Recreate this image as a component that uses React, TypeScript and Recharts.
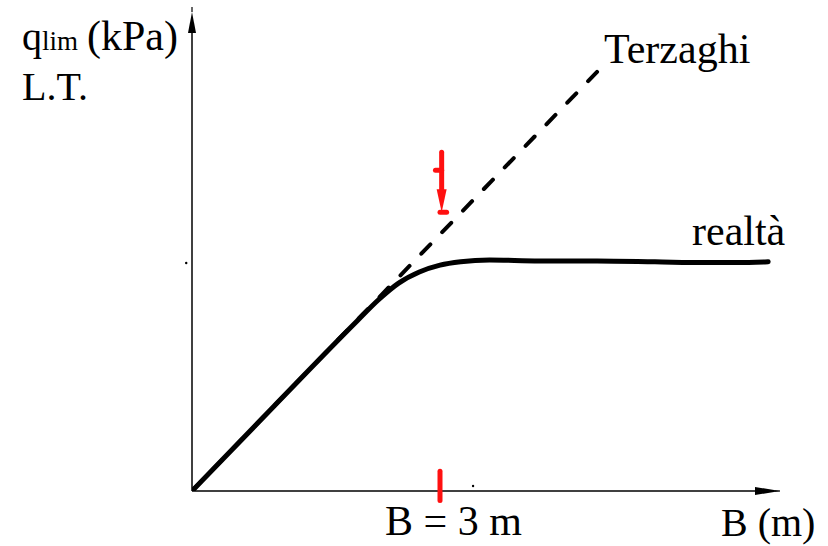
import { LineChart, Line, XAxis, YAxis, ReferenceLine, ReferenceDot } from "recharts";

// B in metres, q_lim in arbitrary kPa-like units
const terzaghiB = [0, 4.9];
const terzaghiQ = [0, 490];
const realtaB = [0, 1.0, 2.0, 2.25, 2.5, 2.75, 3.0, 3.25, 3.6, 4.2, 4.9, 5.6, 6.2, 6.6, 6.97];
const realtaQ = [0, 100, 199, 223, 243, 256, 264, 268, 270, 269, 269, 268, 267, 267, 268];

const X_MAX = 7.5;
const Y_MAX = 560;
const X_AXIS_END = 7.113;
const B_MARK = 3;

const terzaghi = terzaghiB.map((B, i) => ({ B, q: terzaghiQ[i] }));
const realta = realtaB.map((B, i) => ({ B, q: realtaQ[i] }));

const FONT = "'Liberation Serif', 'Times New Roman', serif";
const RED = "#ff1010";

// line with a narrow filled head at the end, optional small tick at the tip
const arrowShape =
  (opts: { color: string; width: number; head: number; half: number; tip?: number; cap?: "round" | "butt" }) =>
  (props: any) => {
    const { x1, y1, x2, y2 } = props;
    const dx = x2 - x1;
    const dy = y2 - y1;
    const len = Math.hypot(dx, dy) || 1;
    const ux = dx / len;
    const uy = dy / len;
    const px = -uy;
    const py = ux;
    const bx = x2 - ux * opts.head;
    const by = y2 - uy * opts.head;
    const pts = `${x2},${y2} ${bx + px * opts.half},${by + py * opts.half} ${bx - px * opts.half},${by - py * opts.half}`;
    return (
      <g>
        <line x1={x1} y1={y1} x2={bx + ux * 2} y2={by + uy * 2} stroke={opts.color} strokeWidth={opts.width} strokeLinecap={opts.cap ?? "butt"} />
        <polygon points={pts} fill={opts.color} />
        {opts.tip ? (
          <line x1={x2} y1={y2} x2={x2 + py * opts.tip} y2={y2 - px * opts.tip} stroke={opts.color} strokeWidth={1.2} />
        ) : null}
      </g>
    );
  };

export default function App() {
  return (
    <div style={{ position: "absolute", left: 0, top: 0, width: 828, height: 546, background: "#fff" }}>
      <LineChart width={828} height={546} margin={{ top: 12, right: 16, bottom: 55, left: 192 }}>
        <XAxis type="number" dataKey="B" domain={[0, X_MAX]} hide allowDataOverflow />
        <YAxis type="number" dataKey="q" domain={[0, Y_MAX]} hide allowDataOverflow />

        <ReferenceLine
          segment={[{ x: 0, y: 0 }, { x: 0, y: Y_MAX }]}
          ifOverflow="visible"
          shape={arrowShape({ color: "#000", width: 1.5, head: 21, half: 4, tip: 5 })}
        />
        <ReferenceLine
          segment={[{ x: 0, y: 0 }, { x: X_AXIS_END, y: 0 }]}
          ifOverflow="visible"
          shape={arrowShape({ color: "#000", width: 1.5, head: 25, half: 4, tip: -5 })}
        />

        <Line
          data={terzaghi}
          dataKey="q"
          type="linear"
          stroke="#000"
          strokeWidth={4}
          strokeDasharray="13 17"
          strokeLinecap="round"
          dot={false}
          activeDot={false}
          isAnimationActive={false}
        />
        <Line
          data={realta}
          dataKey="q"
          type="monotone"
          stroke="#000"
          strokeWidth={5}
          strokeLinecap="round"
          dot={false}
          activeDot={false}
          isAnimationActive={false}
        />

        <ReferenceLine
          segment={[{ x: B_MARK, y: 23 }, { x: B_MARK, y: -11 }]}
          ifOverflow="visible"
          stroke={RED}
          strokeWidth={5}
          strokeLinecap="round"
        />
        <ReferenceLine
          segment={[{ x: 3.02, y: 396 }, { x: 3.02, y: 326 }]}
          ifOverflow="visible"
          shape={arrowShape({ color: RED, width: 5, head: 23, half: 5, cap: "round" })}
        />
        <ReferenceLine
          segment={[{ x: 2.945, y: 375 }, { x: 3.02, y: 375 }]}
          ifOverflow="visible"
          stroke={RED}
          strokeWidth={5}
          strokeLinecap="round"
        />
        <ReferenceLine
          segment={[{ x: 3.0, y: 326 }, { x: 3.08, y: 326 }]}
          ifOverflow="visible"
          stroke={RED}
          strokeWidth={5}
          strokeLinecap="round"
        />

        <ReferenceDot x={-0.07} y={266.5} r={1.2} fill="#000" stroke="none" ifOverflow="visible" />
        <ReferenceDot x={3.4} y={5.8} r={1.2} fill="#000" stroke="none" ifOverflow="visible" />
      </LineChart>

      <svg width={828} height={546} style={{ position: "absolute", left: 0, top: 0, pointerEvents: "none" }}>
        <g fontFamily={FONT} fill="#000">
          <text x={22} y={50}>
            <tspan fontSize={40}>q</tspan>
            <tspan fontSize={27}>lim</tspan>
            <tspan x={87} fontSize={42}>(kPa)</tspan>
          </text>
          <text x={22} y={100} fontSize={40}>L.T.</text>
          <text x={604} y={63} fontSize={42}>Terzaghi</text>
          <text x={692} y={245} fontSize={42}>realtà</text>
          <text x={385} y={535} fontSize={42}>B = 3 m</text>
          <text x={721} y={536} fontSize={40}>B (m)</text>
        </g>
      </svg>
    </div>
  );
}
